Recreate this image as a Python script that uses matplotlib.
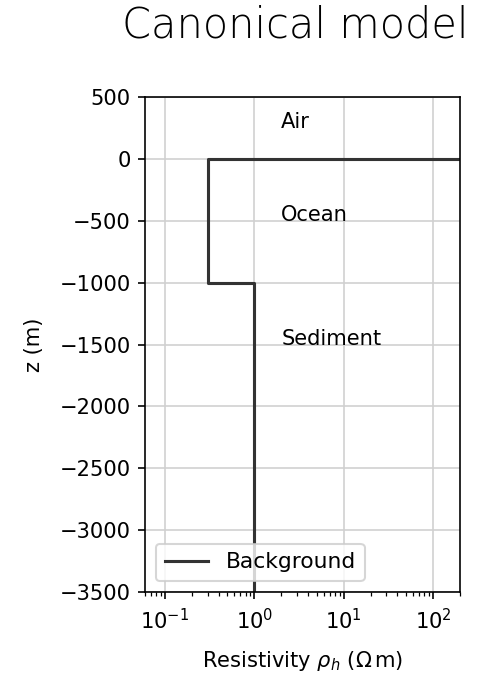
import matplotlib
matplotlib.use('Agg')
import matplotlib.pyplot as plt

# layer resistivities (Ohm m) and interface depths (m)
layer_names = ['Air', 'Ocean', 'Sediment']
rho_air = 1e8
rho_ocean = 0.3
rho_sediment = 1.0
z_seafloor = 0.0
z_ocean_bottom = -1000.0
z_bottom = -5000.0

label_x = 2.0
label_z = [250, -500, -1500]

xlim = (0.06, 200)
ylim = (-3500, 500)

DPI = 148


def main():
    plt.rcParams['font.size'] = 10.2
    fig = plt.figure(figsize=(481 / DPI, 674 / DPI), dpi=DPI)
    ax = fig.add_axes([0.3015, 0.1217, 0.6548, 0.7343])

    rho = [rho_air, rho_ocean, rho_ocean, rho_sediment, rho_sediment]
    depth = [z_seafloor, z_seafloor, z_ocean_bottom, z_ocean_bottom, z_bottom]
    ax.plot(rho, depth, color='#333333', lw=1.5, label='Background')

    for name, z in zip(layer_names, label_z):
        ax.text(label_x, z, name)

    ax.set_xscale('log')
    ax.set_xlim(*xlim)
    ax.set_ylim(*ylim)
    ax.set_yticks([500, 0, -500, -1000, -1500, -2000, -2500, -3000, -3500])
    ax.grid(True, color='#d0d0d0', lw=0.8)
    ax.set_axisbelow(True)
    ax.tick_params(axis='x', which='major', pad=4.5)
    ax.set_xlabel(r'Resistivity $\rho_h$ ($\Omega\,$m)', labelpad=7.5)
    ax.set_ylabel('z (m)', labelpad=7.5)
    ax.legend(loc='lower left', fontsize=10.6)

    fig.text(0.613, 0.945, 'Canonical model', ha='center', va='baseline',
             fontsize=20.2, family='DejaVu Sans', weight='light')

    plt.savefig('out.png', dpi=DPI)


if __name__ == '__main__':
    main()
